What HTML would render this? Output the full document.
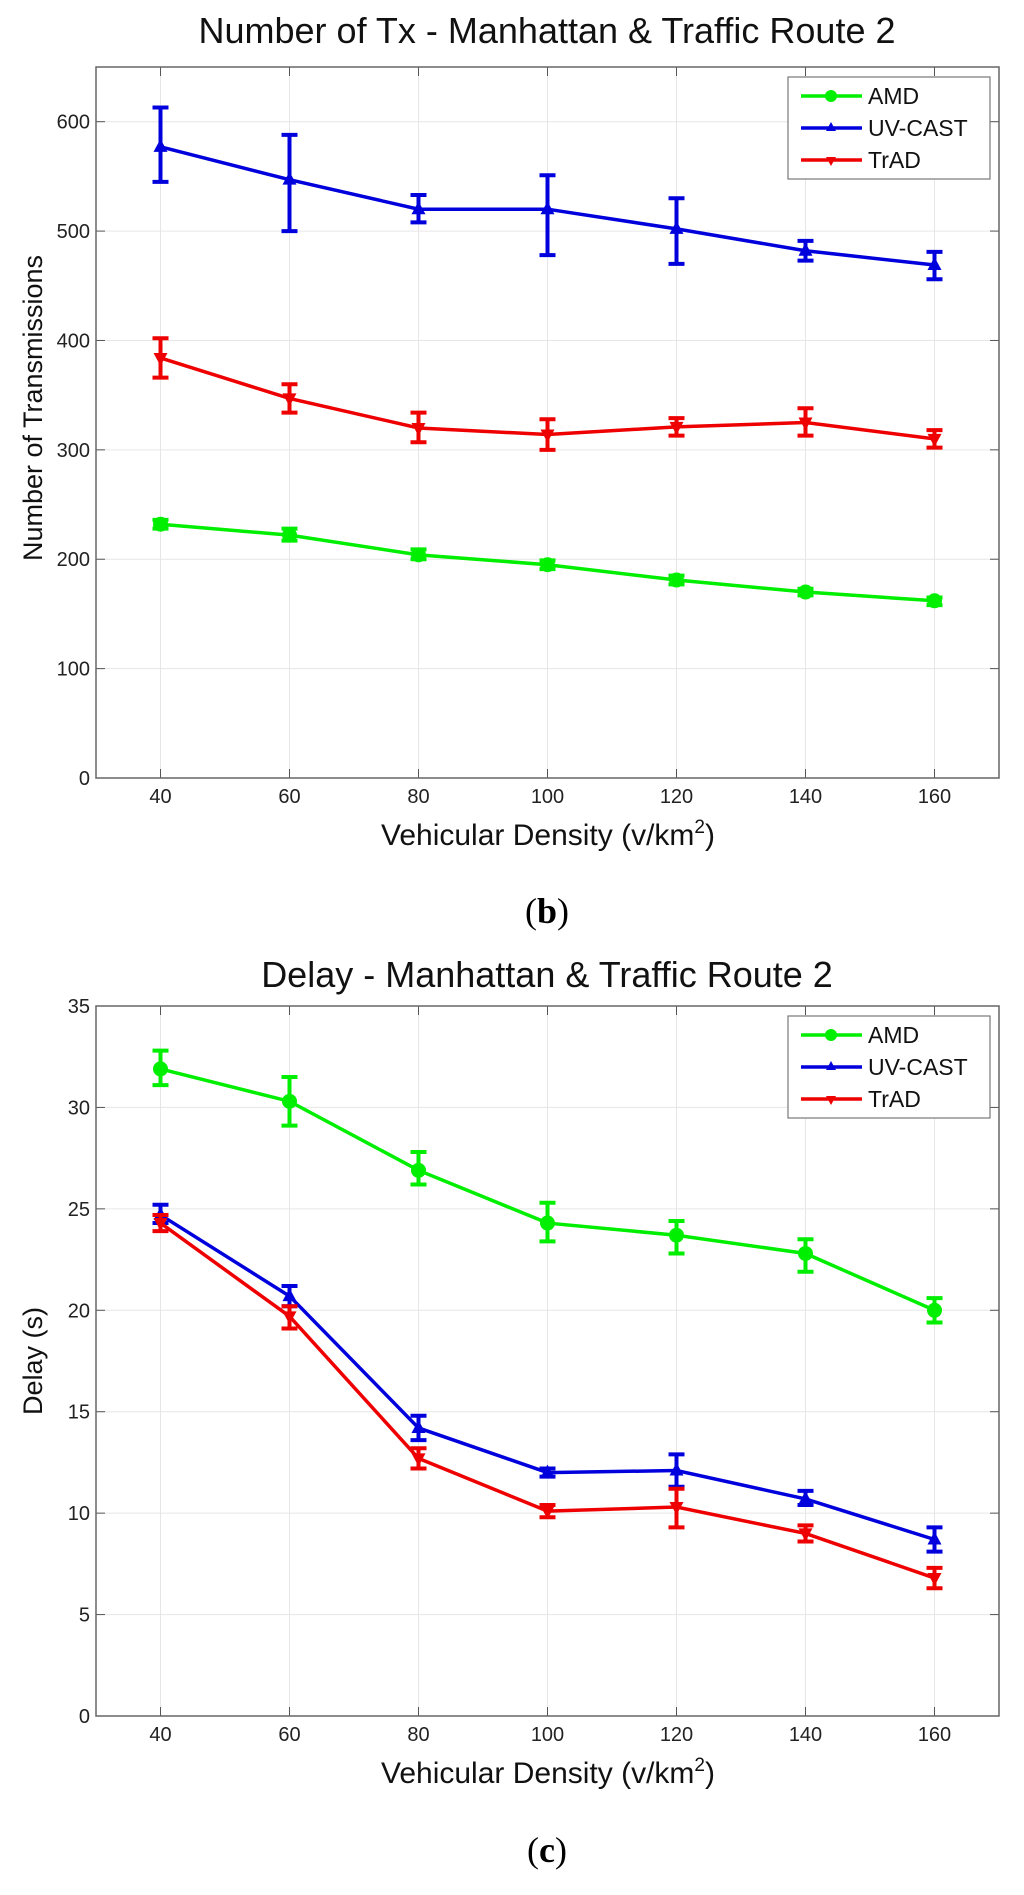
<!DOCTYPE html>
<html><head><meta charset="utf-8"><style>
body{margin:0;background:#fff;}
svg{display:block;font-family:"Liberation Sans",sans-serif;}
</style></head><body>
<svg id="svg" width="1024" height="1895" xmlns="http://www.w3.org/2000/svg">
<text x="547" y="43" font-size="36" text-anchor="middle" fill="#111">Number of Tx - Manhattan &amp; Traffic Route 2</text>
<text x="548" y="845" font-size="30" text-anchor="middle" fill="#111">Vehicular Density (v/km<tspan dy="-12" font-size="19">2</tspan><tspan dy="12">)</tspan></text>
<text x="42" y="408" font-size="27" text-anchor="middle" fill="#111" transform="rotate(-90 42 408)">Number of Transmissions</text>
<text x="547" y="923" font-size="36" text-anchor="middle" fill="#000" font-family="Liberation Serif,serif">(<tspan font-weight="bold">b</tspan>)</text>
<text x="547" y="987" font-size="36" text-anchor="middle" fill="#111">Delay - Manhattan &amp; Traffic Route 2</text>
<text x="548" y="1783" font-size="30" text-anchor="middle" fill="#111">Vehicular Density (v/km<tspan dy="-12" font-size="19">2</tspan><tspan dy="12">)</tspan></text>
<text x="42" y="1361" font-size="27" text-anchor="middle" fill="#111" transform="rotate(-90 42 1361)">Delay (s)</text>
<text x="547" y="1862" font-size="36" text-anchor="middle" fill="#000" font-family="Liberation Serif,serif">(<tspan font-weight="bold">c</tspan>)</text>
</svg>
<script>
const xCats=[40,60,80,100,120,140,160];
const bAMD=[232,222,204,195,181,170,162];
const bAMDlo=[228,217,200,191,177,167,158];
const bAMDhi=[236,228,209,199,185,173,165];
const bUV=[577,547,520,520,502,482,469];
const bUVlo=[545,500,508,478,470,473,456];
const bUVhi=[613,588,533,551,530,491,481];
const bTR=[384,347,320,314,321,325,310];
const bTRlo=[366,334,307,300,313,313,302];
const bTRhi=[402,360,334,328,329,338,318];
const bYTicks=[0,100,200,300,400,500,600];
const cAMD=[31.9,30.3,26.9,24.3,23.7,22.8,20.0];
const cAMDlo=[31.1,29.1,26.2,23.4,22.8,21.9,19.4];
const cAMDhi=[32.8,31.5,27.8,25.3,24.4,23.5,20.6];
const cUV=[24.7,20.7,14.2,12.0,12.1,10.7,8.7];
const cUVlo=[24.3,20.2,13.6,11.8,11.3,10.4,8.1];
const cUVhi=[25.2,21.2,14.8,12.2,12.9,11.1,9.3];
const cTR=[24.3,19.7,12.7,10.1,10.3,9.0,6.8];
const cTRlo=[23.9,19.1,12.2,9.8,9.3,8.6,6.3];
const cTRhi=[24.7,20.2,13.2,10.4,11.2,9.4,7.3];
const cYTicks=[0,5,10,15,20,25,30,35];

const NS='http://www.w3.org/2000/svg';
const svg=document.getElementById('svg');
function mk(tag,at,parent){const e=document.createElementNS(NS,tag);for(const k in at)e.setAttribute(k,at[k]);(parent||svg).appendChild(e);return e;}

function chart(id,top,bottom,ymax,yticks,series){
  const L=96,R=999;
  const xs=v=>L+(v-30)/(170-30)*(R-L);
  const ys=v=>bottom-v/ymax*(bottom-top);
  const g=mk('g',{});
  
  
  mk('rect',{x:L,y:top,width:R-L,height:bottom-top,fill:'#fff'},g);
  xCats.forEach(v=>{const l=mk('line',{x1:xs(v),x2:xs(v),y1:top,y2:bottom,stroke:'#e6e6e6','stroke-width':1},g);
    
    mk('line',{x1:xs(v),x2:xs(v),y1:bottom,y2:bottom-9,stroke:'#555'},g);
    mk('line',{x1:xs(v),x2:xs(v),y1:top,y2:top+9,stroke:'#555'},g);
    const t=mk('text',{x:xs(v),y:bottom+25,'font-size':20,'text-anchor':'middle',fill:'#222'},g);t.textContent=v;
    });
  yticks.forEach(v=>{if(v>0&&v<ymax){const l=mk('line',{x1:L,x2:R,y1:ys(v),y2:ys(v),stroke:'#e6e6e6'},g);
    }
    mk('line',{x1:L,x2:L+9,y1:ys(v),y2:ys(v),stroke:'#555'},g);
    mk('line',{x1:R,x2:R-9,y1:ys(v),y2:ys(v),stroke:'#555'},g);
    const t=mk('text',{x:L-6,y:ys(v)+7,'font-size':20,'text-anchor':'end',fill:'#222'},g);t.textContent=v;
    });
  const ax=mk('rect',{x:L,y:top,width:R-L,height:bottom-top,fill:'none',stroke:'#666','stroke-width':1.5},g);
  
  series.forEach(s=>{
    const sg=mk('g',{},g);
    
    
    const p=mk('polyline',{points:s.v.map((v,i)=>xs(xCats[i])+','+ys(v)).join(' '),fill:'none',stroke:s.c,'stroke-width':3.5},sg);
    
    s.v.forEach((v,i)=>{const x=xs(xCats[i]);
      const e=mk('path',{d:`M${x},${ys(s.lo[i])}V${ys(s.hi[i])}M${x-8},${ys(s.lo[i])}H${x+8}M${x-8},${ys(s.hi[i])}H${x+8}`,stroke:s.c,'stroke-width':4,fill:'none'},sg);
      
      let m;
      if(s.m==='o')m=mk('circle',{cx:x,cy:ys(v),r:7.5,fill:s.c},sg);
      else if(s.m==='^')m=mk('path',{d:`M${x},${ys(v)-8}L${x+7},${ys(v)+5}L${x-7},${ys(v)+5}Z`,fill:s.c},sg);
      else m=mk('path',{d:`M${x},${ys(v)+8}L${x+7},${ys(v)-5}L${x-7},${ys(v)-5}Z`,fill:s.c},sg);
      });
  });
  const lg=mk('g',{},g);
  
  
  mk('rect',{x:788,y:top+10,width:202,height:102,fill:'#fff',stroke:'#777','stroke-width':1.2},lg);
  series.forEach((s,i)=>{const y=top+29+i*32;
    mk('line',{x1:801,x2:862,y1:y,y2:y,stroke:s.c,'stroke-width':3.5},lg);
    if(s.m==='o')mk('circle',{cx:831,cy:y,r:6,fill:s.c},lg);
    else if(s.m==='^')mk('path',{d:`M831,${y-6}L836,${y+3}L826,${y+3}Z`,fill:s.c},lg);
    else mk('path',{d:`M831,${y+6}L836,${y-3}L826,${y-3}Z`,fill:s.c},lg);
    const t=mk('text',{x:868,y:y+8,'font-size':23,fill:'#111'},lg);t.textContent=s.name;
    });
}
chart('chart-b-transmissions',67,778,650,bYTicks,[
 {name:'AMD',c:'#00ee00',m:'o',v:bAMD,lo:bAMDlo,hi:bAMDhi},
 {name:'UV-CAST',c:'#0000dd',m:'^',v:bUV,lo:bUVlo,hi:bUVhi},
 {name:'TrAD',c:'#ee0000',m:'v',v:bTR,lo:bTRlo,hi:bTRhi}]);
chart('chart-c-delay',1006,1716,35,cYTicks,[
 {name:'AMD',c:'#00ee00',m:'o',v:cAMD,lo:cAMDlo,hi:cAMDhi},
 {name:'UV-CAST',c:'#0000dd',m:'^',v:cUV,lo:cUVlo,hi:cUVhi},
 {name:'TrAD',c:'#ee0000',m:'v',v:cTR,lo:cTRlo,hi:cTRhi}]);
</script>
</body></html>
